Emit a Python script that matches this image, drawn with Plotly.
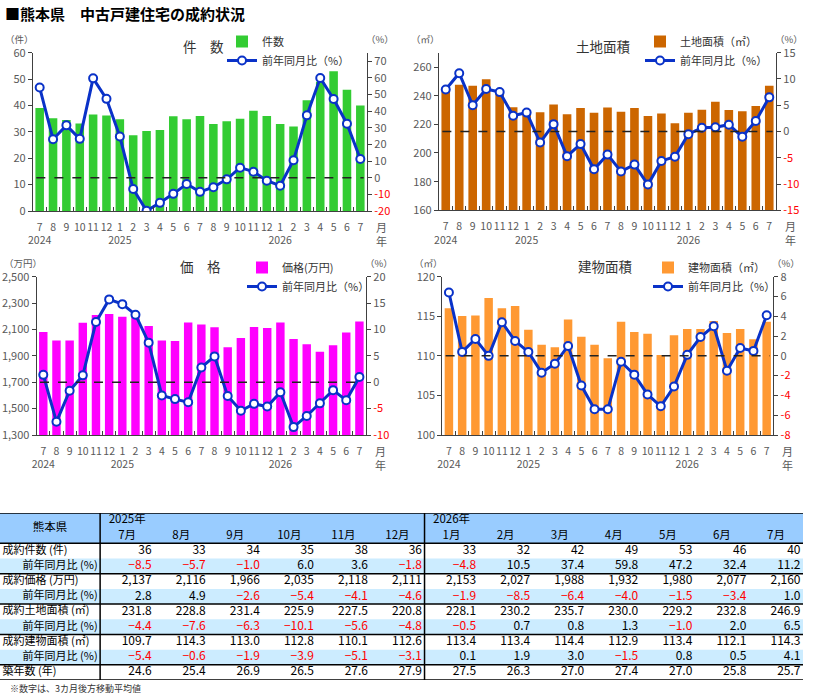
import plotly.graph_objects as go

# ---------------- data ----------------
periods = ['2024-07', '2024-08', '2024-09', '2024-10', '2024-11', '2024-12',
           '2025-01', '2025-02', '2025-03', '2025-04', '2025-05', '2025-06',
           '2025-07', '2025-08', '2025-09', '2025-10', '2025-11', '2025-12',
           '2026-01', '2026-02', '2026-03', '2026-04', '2026-05', '2026-06', '2026-07']
month_labels = ['7', '8', '9', '10', '11', '12', '1', '2', '3', '4', '5', '6',
                '7', '8', '9', '10', '11', '12', '1', '2', '3', '4', '5', '6', '7']
year_labels = ['2024', '', '', '', '', '', '2025', '', '', '', '', '',
               '', '', '', '', '', '', '2026', '', '', '', '', '', '']

count = [39.0, 35.2, 34.5, 33.2, 36.6, 36.2, 34.8, 28.7, 30.3, 30.7, 35.9, 34.8,
         36, 33, 34, 35, 38, 36, 33, 32, 42, 49, 53, 46, 40]
count_yoy = [54.1, 23.1, 31.4, 23.3, 59.6, 47.3, 24.7, -6.8, -19.9, -15.1, -9.7, -3.8,
             -8.5, -5.7, -1.0, 6.0, 3.6, -1.8, -4.8, 10.5, 37.4, 59.8, 47.2, 32.4, 11.2]

land = [242.5, 247.6, 246.9, 251.4, 243.4, 232.0, 228.6, 228.5, 233.9, 227.1, 231.4, 228.1,
        231.8, 228.8, 231.4, 225.9, 227.5, 220.8, 228.1, 230.2, 235.7, 230.0, 229.2, 232.8, 246.9]
land_yoy = [8.0, 11.1, 5.0, 8.1, 7.5, 3.0, 3.6, -2.1, 1.4, -4.7, -2.4, -7.2,
            -4.4, -7.6, -6.3, -10.1, -5.6, -4.8, -0.5, 0.7, 0.8, 1.3, -1.0, 2.0, 6.5]

price = [2081, 2017, 2017, 2151, 2209, 2217, 2197, 2210, 2126, 2016, 2012, 2152,
         2137, 2116, 1966, 2035, 2118, 2111, 2153, 2027, 1988, 1932, 1980, 2077, 2160]
price_yoy = [1.4, -7.5, -1.6, 1.3, 11.4, 15.7, 14.8, 12.8, 7.5, -2.5, -3.2, -3.8,
             2.8, 4.9, -2.6, -5.4, -4.1, -4.6, -1.9, -8.5, -6.4, -4.0, -1.5, -3.4, 1.0]

building = [116.0, 115.05, 115.1, 117.3, 116.0, 116.3, 113.3, 111.4, 111.1, 114.6, 112.4, 111.4,
            109.7, 114.3, 113.0, 112.8, 110.1, 112.6, 113.4, 113.4, 114.4, 112.9, 113.4, 112.1, 114.3]
building_yoy = [6.4, 0.4, 1.7, 0.0, 3.4, 1.5, 0.4, -1.7, -0.8, 1.0, -3.0, -5.4,
                -5.4, -0.6, -1.9, -3.9, -5.1, -3.1, 0.1, 1.9, 3.0, -1.5, 0.8, 0.5, 4.1]

age = [24.6, 25.4, 26.9, 26.5, 27.6, 27.9, 27.5, 26.3, 27.0, 27.4, 27.0, 25.8, 25.7]

table_months = ['7月', '8月', '9月', '10月', '11月', '12月', '1月', '2月', '3月', '4月', '5月', '6月', '7月']
table_years = ['2025年', '', '', '', '', '', '2026年', '', '', '', '', '', '']
row_labels = ['成約件数 (件)', '前年同月比 (%)', '成約価格 (万円)', '前年同月比 (%)',
              '成約土地面積 (㎡)', '前年同月比 (%)', '成約建物面積 (㎡)', '前年同月比 (%)', '築年数 (年)']

# ---------------- style ----------------
W, H = 820, 697
FONT = 'Noto Sans CJK JP'
TICK_C = '#595959'
AXIS_C = '#404040'
LINE_C = '#0A32C8'
RED = '#FF0000'


def fx(p):
    return p / W


def fy(p):
    return 1 - p / H


def ann(text, x, y, size, color='#333333', xanchor='center', yanchor='middle', **kw):
    return dict(text=text, x=fx(x), y=fy(y), xref='paper', yref='paper', showarrow=False,
                xanchor=xanchor, yanchor=yanchor, font=dict(size=size, color=color, family=FONT, **kw))


charts = [
    dict(bars=count, yoy=count_yoy, color='#33CC33', name='件数', title='件　数', unit='（件）',
         box=(33, 367, 52.7, 211), lrange=[0, 60], ltick=10, lfmt='d',
         rrange=[-20, 75], rticks=list(range(-20, 71, 10)), leg=(222, 27), title_xy=(203, 46)),
    dict(bars=land, yoy=land_yoy, color='#CC6600', name='土地面積（㎡）', title='土地面積', unit='（㎡）',
         box=(439, 776, 52.7, 210.3), lrange=[160, 270], ltick=20, lfmt='d',
         rrange=[-15, 15], rticks=list(range(-15, 16, 5)), leg=(640, 27), title_xy=(603, 46)),
    dict(bars=price, yoy=price_yoy, color='#FF00FF', name='価格(万円)', title='価　格', unit='（万円）',
         box=(36.7, 366, 276.7, 435), lrange=[1300, 2500], ltick=200, lfmt=',d',
         rrange=[-10, 20], rticks=list(range(-10, 21, 5)), leg=(242, 253), title_xy=(200, 266)),
    dict(bars=building, yoy=building_yoy, color='#FF9933', name='建物面積（㎡）', title='建物面積', unit='（㎡）',
         box=(442.3, 773.3, 276.7, 435), lrange=[100, 120], ltick=5, lfmt='d',
         rrange=[-8, 8], rticks=list(range(-8, 9, 2)), leg=(648, 253), title_xy=(605, 266)),
]

fig = go.Figure()
annotations = []
shapes = []
layout = {}

tick_text = [m + '<br>' + y if y else m + '<br> ' for m, y in zip(month_labels, year_labels)]

for k, c in enumerate(charts):
    xa = 'x' if k == 0 else f'x{k + 1}'
    yl = 'y' if k == 0 else f'y{2 * k + 1}'
    yr = f'y{2 * k + 2}'
    lg = 'legend' if k == 0 else f'legend{k + 1}'
    x0, x1, y0, y1 = c['box']

    fig.add_trace(go.Bar(x=periods, y=c['bars'], name=c['name'], marker=dict(color=c['color'], line_width=0),
                         width=0.64, xaxis=xa, yaxis=yl, legend=lg, hoverinfo='x+y'))
    fig.add_trace(go.Scatter(x=periods, y=c['yoy'], name='前年同月比（%）', mode='lines+markers',
                             line=dict(color=LINE_C, width=3),
                             marker=dict(symbol='circle', size=8, color='white', line=dict(color=LINE_C, width=2)),
                             xaxis=xa, yaxis=yr, legend=lg))

    layout['xaxis' if k == 0 else f'xaxis{k + 1}'] = dict(
        domain=[fx(x0), fx(x1)], anchor=yl, type='category', range=[-0.5, len(periods) - 0.5],
        tickvals=periods, ticktext=tick_text, tickangle=0, automargin=False, ticklabelstandoff=6,
        showline=True, linecolor=AXIS_C, linewidth=1, mirror=False,
        ticks='inside', tickson='boundaries', ticklen=4, tickcolor=AXIS_C,
        tickfont=dict(size=10.5, color=TICK_C, family=FONT), showgrid=False, zeroline=False,
        fixedrange=True)
    layout['yaxis' if k == 0 else f'yaxis{2 * k + 1}'] = dict(
        domain=[fy(y1), fy(y0)], anchor=xa, range=c['lrange'], dtick=c['ltick'], tick0=c['lrange'][0],
        tickformat=c['lfmt'], showline=True, linecolor=AXIS_C, linewidth=1.2, automargin=False,
        ticks='outside', ticklen=4, tickcolor=AXIS_C,
        tickfont=dict(size=11, color=TICK_C, family=FONT), showgrid=False, zeroline=False)
    rtext = [f'<span style="color:{RED}">{v}</span>' if v < 0 else str(v) for v in c['rticks']]
    layout[f'yaxis{2 * k + 2}'] = dict(
        domain=[fy(y1), fy(y0)], anchor=xa, overlaying=yl, side='right', range=c['rrange'],
        tickvals=c['rticks'], ticktext=rtext, showline=True, linecolor=AXIS_C, linewidth=1.2,
        ticks='outside', ticklen=4, tickcolor=AXIS_C, automargin=False,
        tickfont=dict(size=11, color=TICK_C, family=FONT), showgrid=False, zeroline=False)
    layout[lg] = dict(x=fx(c['leg'][0]), y=fy(c['leg'][1]), xanchor='left', yanchor='top',
                      bgcolor='rgba(0,0,0,0)', font=dict(size=11, color='#333333', family=FONT),
                      tracegroupgap=0, itemwidth=30, traceorder='normal')

    # zero reference line on the right axis
    shapes.append(dict(type='line', xref=f'{xa} domain', yref=yr, x0=0.01, x1=0.99, y0=0, y1=0,
                       line=dict(color='#222222', width=1.5, dash='dash'), layer='above'))
    annotations.append(ann(c['title'], c['title_xy'][0], c['title_xy'][1], 13.5))
    annotations.append(ann(c['unit'], x0 - 14, y0 - 14, 9.5, TICK_C))
    annotations.append(ann('（%）', x1 + 13, y0 - 14, 9.5, TICK_C))
    annotations.append(ann('月<br>年', x1 + 14, y1 + 23, 11, TICK_C))

# ---------------- table (drawn on its own axes) ----------------
def fmt_val(v, kind):
    s = f'{v:,.0f}' if kind == 'int' else f'{v:.1f}'
    return s.replace('-', '−')


n_tab = len(table_months)
col_widths = [100] + [54] * n_tab
col_edges = [0]
for w_ in col_widths:
    col_edges.append(col_edges[-1] + w_)
HDR_UNITS = 2
n_rows = len(row_labels)
TBL_TOP, TBL_BOTTOM, TBL_R = 513, 680, 803
PAD = 2.5
TX, TY = 'x5', 'y9'

layout['xaxis5'] = dict(domain=[0, fx(TBL_R)], range=[0, col_edges[-1]], anchor=TY, visible=False,
                        fixedrange=True, automargin=False)
layout['yaxis9'] = dict(domain=[fy(TBL_BOTTOM), fy(TBL_TOP)], range=[HDR_UNITS + n_rows, 0], anchor=TX,
                        visible=False, fixedrange=True, automargin=False)

# fills
shapes.append(dict(type='rect', xref=TX, yref=TY, x0=0, x1=col_edges[-1], y0=0, y1=HDR_UNITS,
                   fillcolor='#99CCFF', line_width=0, layer='below'))
for r in range(n_rows):
    if row_labels[r].startswith('前年'):
        shapes.append(dict(type='rect', xref=TX, yref=TY, x0=0, x1=col_edges[-1],
                           y0=HDR_UNITS + r, y1=HDR_UNITS + r + 1, fillcolor='#CCECFF', line_width=0, layer='below'))

series_rows = [(count, 'int'), (count_yoy, 'pct'), (price, 'int'), (price_yoy, 'pct'),
               (land, 'f1'), (land_yoy, 'pct'), (building, 'f1'), (building_yoy, 'pct')]
vx, vy, vt, vc = [], [], [], []
for j in range(n_tab):
    xr = col_edges[j + 2] - PAD
    for r, (series, kind) in enumerate(series_rows):
        v = series[len(series) - n_tab + j]
        vx.append(xr)
        vy.append(HDR_UNITS + r + 0.5)
        vt.append(fmt_val(v, kind))
        vc.append(RED if (kind == 'pct' and v < 0) else 'black')
    vx.append(xr)
    vy.append(HDR_UNITS + len(series_rows) + 0.5)
    vt.append(f'{age[j]:.1f}')
    vc.append('black')
fig.add_trace(go.Scatter(x=vx, y=vy, text=vt, mode='text', textposition='middle left',
                         textfont=dict(size=12, color=vc, family=FONT), xaxis=TX, yaxis=TY,
                         showlegend=False, hoverinfo='skip', cliponaxis=False))

lx, ly, lt, lp = [], [], [], []
for r, lab in enumerate(row_labels):
    right = lab.startswith('前年')
    lx.append(col_edges[1] - PAD if right else PAD)
    ly.append(HDR_UNITS + r + 0.5)
    lt.append(lab)
    lp.append('middle left' if right else 'middle right')
fig.add_trace(go.Scatter(x=lx, y=ly, text=lt, mode='text', textposition=lp,
                         textfont=dict(size=11, color='black', family=FONT), xaxis=TX, yaxis=TY,
                         showlegend=False, hoverinfo='skip', cliponaxis=False))

hx, hy, ht = [col_widths[0] / 2], [HDR_UNITS / 2], ['熊本県']
for j in range(n_tab):
    cx = (col_edges[j + 1] + col_edges[j + 2]) / 2
    if table_years[j]:
        hx.append(cx)
        hy.append(0.5)
        ht.append(table_years[j])
    hx.append(cx)
    hy.append(1.5)
    ht.append(table_months[j])
fig.add_trace(go.Scatter(x=hx, y=hy, text=ht, mode='text', textposition='middle center',
                         textfont=dict(size=11.5, color='black', family=FONT), xaxis=TX, yaxis=TY,
                         showlegend=False, hoverinfo='skip', cliponaxis=False))

# borders
for r in [0, HDR_UNITS, HDR_UNITS + 2, HDR_UNITS + 4, HDR_UNITS + 6, HDR_UNITS + 8, HDR_UNITS + 9]:
    shapes.append(dict(type='line', xref=TX, yref=TY, x0=0, x1=col_edges[-1], y0=r, y1=r,
                       line=dict(color='black', width=1.5)))
for ci in [1, 7]:
    shapes.append(dict(type='line', xref=TX, yref=TY, x0=col_edges[ci], x1=col_edges[ci],
                       y0=0, y1=HDR_UNITS + n_rows, line=dict(color='black', width=1.5)))

annotations.append(ann('■熊本県　中古戸建住宅の成約状況', 3, 13, 15, 'black', xanchor='left', weight='bold'))
annotations.append(ann('※数字は、3カ月後方移動平均値', 8, 688, 9, '#333333', xanchor='left'))

fig.update_layout(
    width=W, height=H, margin=dict(l=0, r=0, t=0, b=0, autoexpand=False),
    paper_bgcolor='white', plot_bgcolor='rgba(0,0,0,0)',
    font=dict(family=FONT, color='#333333'),
    bargap=0.36, showlegend=True,
    annotations=annotations, shapes=shapes, **layout)

fig.write_html('out.html', config={'displayModeBar': False},
               post_script="document.body.style.margin='0';")
